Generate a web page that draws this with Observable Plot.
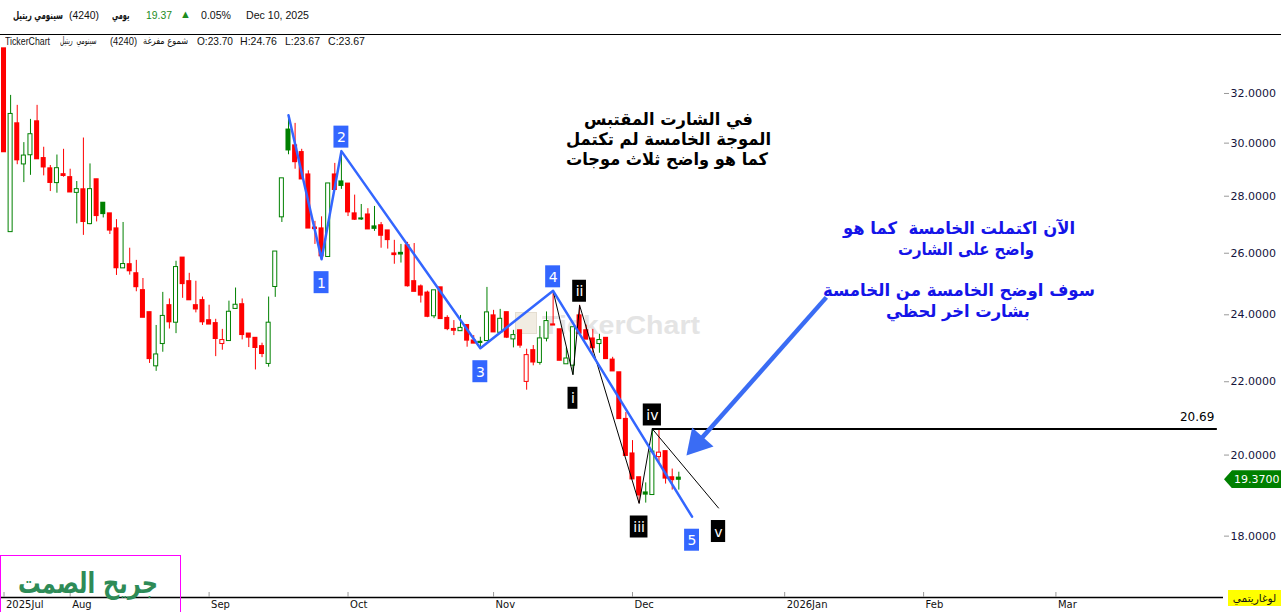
<!DOCTYPE html>
<html><head><meta charset="utf-8">
<script src="https://cdn.jsdelivr.net/npm/d3@7"></script>
<script src="https://cdn.jsdelivr.net/npm/@observablehq/plot@0.6"></script>
<style>
html,body{margin:0;padding:0;background:#fff;width:1281px;height:612px;overflow:hidden;font-family:"DejaVu Sans",sans-serif;}
#page{position:relative;width:1281px;height:612px;}
.abs{position:absolute;white-space:pre;line-height:1;}
.fit{position:absolute;white-space:pre;line-height:1;display:inline-block;transform-origin:0 50%;}
.h1{font-family:"Liberation Sans",sans-serif;font-size:11px;color:#111;top:10px;}
.h2{font-family:"Liberation Sans",sans-serif;font-size:10.5px;color:#111;top:36px;}
.ar{direction:rtl;unicode-bidi:isolate;}
.bk{font:bold 17px 'DejaVu Sans',sans-serif;color:#000;}
.bl{font:bold 17px 'DejaVu Sans',sans-serif;color:#1414e8;}
#chart{position:absolute;left:0;top:36px;}
</style></head>
<body><div id="page">
<div class="fit h1 ar" data-x="13" data-w="50" style="font-family:'DejaVu Sans';font-size:11px;font-weight:bold;top:10px;">سينومي ريتيل</div>
<div class="fit h1" data-x="69" data-w="30">(4240)</div>
<div class="fit h1 ar" data-x="112" data-w="16" style="font-family:'DejaVu Sans';font-size:11px;font-weight:bold;top:10px;">يومي</div>
<div class="fit h1" data-x="146" data-w="26" style="color:#1e8c1e;">19.37</div>
<div class="abs h1" style="left:180px;color:#1e8c1e;font-size:11px;top:9px;">&#9650;</div>
<div class="fit h1" data-x="201" data-w="30">0.05%</div>
<div class="fit h1" data-x="246" data-w="63">Dec 10, 2025</div>
<div style="position:absolute;left:0;top:34px;width:1281px;height:1px;background:#000;"></div>

<div class="abs" style="left:515px;top:312px;width:20px;height:20px;background:#f1ece2;border:1px solid #e4ddd0;"></div>
<div class="fit" data-x="542" data-w="158" style="top:310px;font:bold 26px 'Liberation Sans',sans-serif;color:#e4e4e4;">TickerChart</div>

<div id="chart"></div>

<div class="fit h2" data-x="5" data-w="45">TickerChart</div>
<div class="fit h2 ar" data-x="60" data-w="36" style="font-family:'DejaVu Sans';font-size:10px;top:36px;">سينومي  ريتيل</div>
<div class="fit h2" data-x="110" data-w="27">(4240)</div>
<div class="fit h2 ar" data-x="143" data-w="45" style="font-family:'DejaVu Sans';font-size:10px;top:36px;">شموع مفرغة</div>
<div class="fit h2" data-x="197" data-w="36">O:23.70</div>
<div class="fit h2" data-x="240" data-w="37">H:24.76</div>
<div class="fit h2" data-x="285" data-w="35">L:23.67</div>
<div class="fit h2" data-x="328" data-w="37">C:23.67</div>

<div class="fit bk ar" data-cx="668" data-w="169" style="top:109px;">في الشارت المقتبس</div>
<div class="fit bk ar" data-cx="668" data-w="205" style="top:129px;">الموجة الخامسة لم تكتمل</div>
<div class="fit bk ar" data-cx="667" data-w="202" style="top:149px;">كما هو واضح ثلاث موجات</div>

<div class="fit bl ar" data-cx="959" data-w="232" style="top:218px;">الآن اكتملت الخامسة  كما هو</div>
<div class="fit bl ar" data-cx="966" data-w="136" style="top:239px;">واضح على الشارت</div>
<div class="fit bl ar" data-cx="959" data-w="272" style="top:280px;">سوف اوضح الخامسة من الخامسة</div>
<div class="fit bl ar" data-cx="958" data-w="144" style="top:301px;">بشارت اخر لحظي</div>

<div class="abs" style="left:0;top:555px;width:179px;height:56px;border:1px solid #ff00ff;"></div>
<div class="fit ar" data-x="18" data-w="140" style="top:566px;font:bold 29px 'DejaVu Sans',sans-serif;color:#2e8b57;">جريح الصمت</div>

<div id="tag" class="abs" style="left:1224px;width:57px;height:18px;background:#008000;color:#fff;font:11px 'DejaVu Sans',sans-serif;clip-path:polygon(0 50%,8px 0,100% 0,100% 100%,8px 100%);"><span style="position:absolute;left:10px;top:3px;">19.3700</span></div>
<div class="abs ar" style="left:1228px;top:590px;width:53px;height:16px;background:#ffff00;color:#111;font:10.5px 'DejaVu Sans',sans-serif;text-align:center;line-height:16px;">لوغاريتمي</div>
</div>
<script>
// ---------- data ----------
const monthIdx   = [0, 10, 31, 52, 74, 95, 118, 139, 159];
const monthLabel = ["2025Jul", "Aug", "Sep", "Oct", "Nov", "Dec", "2026Jan", "Feb", "Mar"];
const yTicks = [18, 20, 22, 24, 26, 28, 30, 32];

const open = [33.93,26.74,30.78,29.20,29.55,30.86,29.42,29.03,28.50,28.81,28.70,28.14,28.25,27.02,28.62,27.76,27.38,26.85,25.51,25.63,
25.33,24.78,24.08,22.46,23.12,24.30,23.77,25.85,25.07,24.30,24.46,23.83,23.74,23.12,23.21,24.20,24.33,23.42,23.29,23.04,
22.53,24.90,27.26,30.53,29.91,29.65,28.80,26.88,26.85,25.89,28.80,28.54,28.46,27.38,27.20,27.34,26.92,26.96,26.78,25.99,
26.01,26.27,25.07,24.90,24.70,23.97,24.87,23.90,23.56,23.51,23.68,23.21,23.17,23.21,23.98,23.46,24.08,23.26,23.52,22.01,
22.92,22.56,23.28,23.70,23.55,22.52,22.48,23.98,23.52,23.27,23.12,23.29,22.64,22.27,20.96,20.04,19.43,19.05,19.00,19.96,
20.10,19.43,19.42];
const high = [33.93,31.92,31.51,30.02,30.94,31.51,29.84,29.14,29.54,29.76,29.00,28.54,30.20,29.20,28.62,27.76,27.38,27.16,27.06,26.17,
25.76,25.16,24.08,23.67,24.71,24.50,25.73,25.85,25.33,25.07,24.56,24.30,23.86,23.55,24.43,24.85,24.50,23.42,23.29,23.13,
24.56,26.04,28.64,31.11,30.78,29.76,28.94,27.10,27.26,28.45,29.22,29.69,28.46,28.04,27.70,27.55,27.63,27.06,26.78,26.44,
26.30,26.37,26.33,24.95,24.75,24.76,24.87,23.97,23.82,23.98,23.68,23.36,23.31,24.87,24.14,24.17,24.08,23.52,23.52,22.95,
23.06,23.64,24.09,24.76,23.55,22.99,23.60,24.30,23.68,23.55,23.40,23.29,22.71,22.27,21.14,20.38,19.43,19.29,20.69,20.66,
20.10,19.64,19.56];
const low = [29.65,26.74,29.17,28.50,28.77,29.38,28.75,28.17,28.11,28.70,28.14,27.01,26.61,26.98,27.08,27.22,26.64,25.26,25.51,25.27,
24.73,23.91,22.53,22.30,22.86,23.56,23.42,24.52,24.46,24.06,23.67,23.70,22.73,22.92,23.21,24.17,23.23,23.00,22.34,22.70,
22.42,24.55,27.06,29.55,29.00,28.62,26.85,26.30,25.80,25.89,28.23,28.25,27.27,27.13,27.13,26.82,26.75,26.17,26.14,25.63,
25.67,24.88,24.73,24.37,23.91,23.88,23.87,23.51,23.36,23.51,23.01,23.12,22.98,23.21,23.46,23.46,23.27,22.99,22.98,21.76,
22.46,22.48,23.17,23.67,22.61,22.52,22.20,23.42,23.24,22.83,22.83,22.66,22.30,20.96,19.98,19.38,18.78,18.79,19.00,19.80,
19.26,19.11,19.11];
const close = [29.65,31.14,29.34,29.50,30.33,29.38,29.07,28.49,29.02,28.75,28.14,28.24,27.08,28.24,27.29,27.36,26.78,25.50,25.62,25.40,
24.88,23.91,22.66,22.78,23.95,23.77,25.52,24.98,24.46,24.17,23.77,23.70,23.26,23.21,24.08,24.30,23.38,23.30,22.99,22.81,
23.74,26.04,28.64,29.72,29.27,28.62,26.85,26.83,25.90,28.45,28.23,28.38,27.42,27.16,27.17,26.82,26.84,26.60,26.45,25.94,
25.96,24.91,24.73,24.61,23.94,24.76,23.87,23.56,23.51,23.58,23.21,23.12,23.14,24.06,23.46,23.86,23.30,23.36,23.06,22.76,
22.56,23.26,23.79,23.67,22.61,22.66,23.60,23.42,23.24,22.98,23.21,22.66,22.30,20.96,19.98,19.38,18.98,19.00,20.08,20.05,
19.40,19.36,19.37];

// Elliott wave turning points (candle index, price)
const waveMajor = [
  {label: "",  i: 43,  v: 31.11},
  {label: "1", i: 48,  v: 25.80},
  {label: "2", i: 51,  v: 29.69},
  {label: "3", i: 72,  v: 22.98},
  {label: "4", i: 83,  v: 24.76},
  {label: "5", i: 104, v: 18.46}
];
const waveMinor = [
  {label: "",    i: 83,  v: 24.76},
  {label: "i",   i: 86,  v: 22.20},
  {label: "ii",  i: 87,  v: 24.30},
  {label: "iii", i: 96,  v: 18.78},
  {label: "iv",  i: 98,  v: 20.69},
  {label: "v",   i: 108, v: 18.67}
];
const level = {value: 20.69, from: 98, to: 183.4};
const lastClose = 19.37;
const arrowTail = {i: 124.3, v: 24.55};
const arrowTip  = {i: 103.2, v: 20.0};

// ---------- layout ----------
const W = 1281, H = 576, mR = 58, mB = 15;
const xDomain = [-0.53, 184.33];
const yDomain = [16.62, 34.46];
const GREEN = "#008000", RED = "#ff0000", BLUE = "#3366ff", ABLUE = "#3a6cf4";

const candles = open.map((o, k) => ({
  i: k, o, h: high[k], l: low[k], c: close[k],
  col: (k === 0 ? close[k] >= o : close[k] >= close[k - 1]) ? GREEN : RED,
  hollow: close[k] > o
}));

const xs = Plot.scale({x: {domain: xDomain, range: [0, W - mR]}});
const ys = Plot.scale({y: {type: "log", domain: yDomain, range: [H - mB, 0]}});

// arrow geometry in pixels
const tx = xs.apply(arrowTip.i), ty = ys.apply(arrowTip.v);
const sx = xs.apply(arrowTail.i), sy = ys.apply(arrowTail.v);
const len = Math.hypot(tx - sx, ty - sy);
const ux = (tx - sx) / len, uy = (ty - sy) / len;
const rot = Math.atan2(ux, -uy) * 180 / Math.PI;
const back = 16;
const headCenter = {i: xs.invert(tx - back * ux), v: ys.invert(ty - back * uy)};

// label widths
const ctx = document.createElement("canvas").getContext("2d");
ctx.font = "14px 'DejaVu Sans'";
function labelMarks(wave, fill) {
  const marks = [];
  wave.forEach((d, k) => {
    if (!d.label) return;
    const above = d.v > wave[k - 1].v;
    const dy = above ? -14 : 23.5;
    const w = ctx.measureText(d.label).width + 6;
    marks.push(Plot.rect([d], {x1: "i", x2: "i", y1: "v", y2: "v", dy,
      insetLeft: -w / 2, insetRight: -w / 2, insetTop: -11, insetBottom: -11, fill}));
    marks.push(Plot.text([d], {x: "i", y: "v", text: "label", dy: dy + 0.5, fill: "white",
      fontSize: 14, fontFamily: "DejaVu Sans"}));
  });
  return marks;
}

const labelMap = new Map(monthIdx.map((d, k) => [d, monthLabel[k]]));

const chart = Plot.plot({
  width: W, height: H,
  marginLeft: 0, marginRight: mR, marginTop: 0, marginBottom: mB,
  x: {domain: xDomain, axis: null},
  y: {type: "log", domain: yDomain, axis: null},
  color: {type: "identity"},
  style: {fontFamily: "DejaVu Sans", fontSize: "11px", background: "transparent", overflow: "visible"},
  marks: [
    // candles
    Plot.ruleX(candles, {x: "i", y1: "l", y2: "h", stroke: "col", strokeWidth: 1}),
    Plot.rect(candles.filter(d => !d.hollow), {x1: d => d.i - 0.38, x2: d => d.i + 0.38, y1: "o", y2: "c",
      fill: "col", insetTop: -0.6, insetBottom: -0.6}),
    Plot.rect(candles.filter(d => d.hollow), {x1: d => d.i - 0.38, x2: d => d.i + 0.38, y1: "o", y2: "c",
      fill: "white", stroke: "col", strokeWidth: 1, insetLeft: 0.5, insetRight: 0.5, insetTop: -0.5, insetBottom: -0.5}),
    // level line
    Plot.ruleY([level], {y: "value", x1: "from", x2: "to", stroke: "#000", strokeWidth: 2}),
    Plot.text([level], {x: "to", y: "value", text: d => d.value.toFixed(2), textAnchor: "end", dx: -3, dy: -12,
      fontSize: 12, fill: "#000"}),
    // waves
    Plot.line(waveMinor, {x: "i", y: "v", stroke: "#000", strokeWidth: 1}),
    Plot.line(waveMajor, {x: "i", y: "v", stroke: BLUE, strokeWidth: 2.5}),
    ...labelMarks(waveMajor, BLUE),
    ...labelMarks(waveMinor, "#000"),
    // arrow
    Plot.link([{a: arrowTail, b: headCenter}], {x1: d => d.a.i, y1: d => d.a.v, x2: d => d.b.i, y2: d => d.b.v,
      stroke: ABLUE, strokeWidth: 4.5}),
    Plot.dot([arrowTip], {x: "i", y: "v", symbol: "triangle", r: 10.6, rotate: rot,
      dx: -back * ux, dy: -back * uy, fill: ABLUE, stroke: "none"}),
    // axes
    Plot.ruleY([yDomain[0]], {stroke: "#000", strokeWidth: 1.5}),
    Plot.axisX(monthIdx, {anchor: "bottom", tickSize: 5, dy: -5, tickFormat: () => "", stroke: "#999"}),
    Plot.axisX(monthIdx, {anchor: "bottom", tickSize: 0, tickPadding: 3, tickFormat: d => labelMap.get(d),
      textAnchor: "start", dx: 2, fontSize: 10, fill: "#111"}),
    Plot.axisY(yTicks, {anchor: "right", tickSize: 5, tickPadding: 2, tickFormat: d => d.toFixed(4),
      stroke: "#999", fill: "#14143c", fontSize: 11})
  ]
});
document.getElementById("chart").appendChild(chart);

const tag = document.getElementById("tag");
tag.style.top = (36 + chart.scale("y").apply(lastClose) - 9) + "px";

// fit annotation / header texts to their widths in the reference
document.querySelectorAll(".fit").forEach(el => {
  const w = +el.dataset.w;
  const nat = el.getBoundingClientRect().width;
  let s = nat > 0 ? w / nat : 1;
  s = Math.max(0.6, Math.min(1.3, s));
  el.style.transform = `scaleX(${s})`;
  if (el.dataset.cx !== undefined) el.style.left = (+el.dataset.cx - w / 2) + "px";
  else el.style.left = el.dataset.x + "px";
});
</script>
</body></html>
